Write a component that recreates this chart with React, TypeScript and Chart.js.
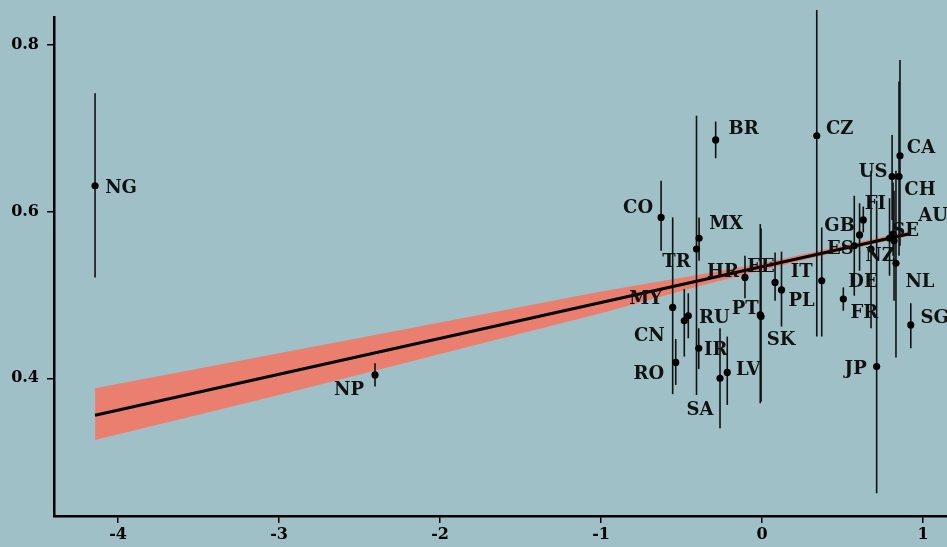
import React, { useEffect, useRef } from 'react';
import { Chart, registerables } from 'chart.js';

Chart.register(...registerables);

// ---- data ----
const countries = ['NG','NP','BR','CZ','CA','US','CH','CO','MX','TR','FI','GB','ES','SE','AU','NL','NZ','DE','FR','SG','JP','IT','PL','EE','HR','PT','SK','MY','RU','CN','IR','RO','SA','LV'];
const xValues = [-4.143,-2.404,-0.288,0.340,0.857,0.808,0.851,-0.627,-0.391,-0.407,0.629,0.606,0.573,0.792,0.814,0.832,0.820,0.677,0.505,0.924,0.712,0.371,0.121,0.081,-0.106,-0.011,-0.006,-0.555,-0.458,-0.483,-0.393,-0.536,-0.261,-0.216];
const yValues = [0.631,0.404,0.686,0.691,0.667,0.642,0.642,0.593,0.568,0.555,0.590,0.572,0.559,0.568,0.573,0.538,0.565,0.555,0.495,0.464,0.414,0.517,0.506,0.515,0.521,0.476,0.474,0.485,0.475,0.469,0.436,0.419,0.400,0.407];
const yLow =    [0.521,0.390,0.664,0.450,0.559,0.590,0.547,0.553,0.541,0.380,0.575,0.529,0.499,0.523,0.547,0.425,0.493,0.460,0.481,0.436,0.262,0.450,0.462,0.493,0.496,0.370,0.372,0.381,0.448,0.426,0.411,0.392,0.340,0.368];
const yHigh =   [0.742,0.418,0.708,0.842,0.782,0.692,0.756,0.637,0.593,0.715,0.606,0.610,0.619,0.616,0.635,0.649,0.625,0.649,0.509,0.490,0.613,0.581,0.552,0.551,0.547,0.585,0.580,0.593,0.502,0.507,0.460,0.447,0.460,0.450];

// label placement (pixel offsets from each point, like a repel layout)
const labelDx = [26,-26,28,23,21,-19,21,-23,27,-20,12,-20,-14,16,40,24,-14,-8,21,24,-21,-20,20,-14,-22,-15,20,-27,26,-35,17,-27,-20,21];
const labelDy = [1,14,-12,-8,-9,-6,12,-11,-16,11,-17,-10,2,-9,-20,17,14,31,12,-8,1,-10,10,-17,-7,-7,22,-10,1,14,0,10,30,-4];

// fitted line and its confidence band
const fitX = [-4.143, 0.924];
const fitY = [0.3555, 0.5738];
const bandX =    [-4.143, -3, -2, -1, -0.4, 0, 0.5, 0.924];
const bandHigh = [0.388, 0.430, 0.467, 0.504, 0.524, 0.538, 0.559, 0.577];
const bandLow =  [0.326, 0.380, 0.429, 0.478, 0.510, 0.530, 0.553, 0.571];

const xTicks = [-4, -3, -2, -1, 0, 1];
const yTicks = [0.4, 0.6, 0.8];

const BG = '#9fc0c6';
const FONT = '"DejaVu Serif", serif';

export default function App() {
  const ref = useRef<HTMLCanvasElement>(null);

  useEffect(() => {
    document.body.style.margin = '0';
    document.body.style.background = BG;
    const canvas = ref.current;
    if (!canvas) return;

    const errorBars = {
      id: 'errorBars',
      beforeDatasetDraw(chart: any, args: any) {
        if (args.index !== 0) return;
        const { ctx, scales } = chart;
        ctx.save();
        ctx.strokeStyle = '#111';
        ctx.lineWidth = 1.6;
        for (let i = 0; i < xValues.length; i++) {
          const px = scales.x.getPixelForValue(xValues[i]);
          ctx.beginPath();
          ctx.moveTo(px, scales.y.getPixelForValue(yHigh[i]));
          ctx.lineTo(px, scales.y.getPixelForValue(yLow[i]));
          ctx.stroke();
        }
        ctx.restore();
      },
    };

    const pointLabels = {
      id: 'pointLabels',
      afterDatasetsDraw(chart: any) {
        const { ctx } = chart;
        const meta = chart.getDatasetMeta(0);
        ctx.save();
        ctx.fillStyle = '#111';
        ctx.font = `bold 18px ${FONT}`;
        ctx.textAlign = 'center';
        ctx.textBaseline = 'alphabetic';
        meta.data.forEach((el: any, i: number) => {
          ctx.fillText(countries[i], el.x + labelDx[i], el.y + labelDy[i] + 6.5);
        });
        ctx.restore();
      },
    };

    const tickFont = { family: FONT, weight: 'bold' as const, size: 16 };

    const chart = new Chart(canvas, {
      type: 'scatter',
      data: {
        datasets: [
          {
            type: 'scatter',
            data: xValues.map((x, i) => ({ x, y: yValues[i] })),
            pointRadius: 3.6,
            backgroundColor: '#000',
            borderWidth: 0,
          } as any,
          {
            type: 'line',
            data: fitX.map((x, i) => ({ x, y: fitY[i] })),
            borderColor: '#000',
            borderWidth: 3,
            pointRadius: 0,
            fill: false,
          } as any,
          {
            type: 'line',
            data: bandX.map((x, i) => ({ x, y: bandHigh[i] })),
            borderColor: 'transparent',
            borderWidth: 0,
            pointRadius: 0,
            backgroundColor: '#ea7f70',
            fill: '+1',
          } as any,
          {
            type: 'line',
            data: bandX.map((x, i) => ({ x, y: bandLow[i] })),
            borderColor: 'transparent',
            borderWidth: 0,
            pointRadius: 0,
            fill: false,
          } as any,
        ],
      },
      options: {
        responsive: false,
        animation: false,
        events: [],
        layout: { autoPadding: false, padding: { top: 17, right: 0, bottom: 0, left: 0 } },
        plugins: { legend: { display: false }, tooltip: { enabled: false } },
        scales: {
          x: {
            type: 'linear',
            min: -4.398,
            max: 1.149,
            afterBuildTicks: (s: any) => { s.ticks = xTicks.map((v) => ({ value: v })); },
            afterFit: (s: any) => { s.height = 31; s.paddingLeft = 0; s.paddingRight = 0; },
            border: { display: true, color: '#000', width: 2.5 },
            grid: { drawOnChartArea: false, drawTicks: true, tickLength: 7, color: '#000', lineWidth: 1.5 },
            ticks: { color: '#000', font: tickFont, padding: 2, callback: (v: any) => String(v) },
          },
          y: {
            type: 'linear',
            min: 0.2347,
            max: 0.8335,
            afterBuildTicks: (s: any) => { s.ticks = yTicks.map((v) => ({ value: v })); },
            afterFit: (s: any) => { s.width = 54; s.paddingTop = 0; s.paddingBottom = 0; },
            border: { display: true, color: '#000', width: 2.5 },
            grid: { drawOnChartArea: false, drawTicks: true, tickLength: 7, color: '#000', lineWidth: 1.5 },
            ticks: { color: '#000', font: tickFont, padding: 8, callback: (v: any) => Number(v).toFixed(1) },
          },
        },
      },
      plugins: [errorBars, pointLabels],
    });

    return () => chart.destroy();
  }, []);

  return (
    <div style={{ position: 'fixed', left: 0, top: 0, width: 947, height: 547, background: BG }}>
      <canvas ref={ref} width={947} height={547} style={{ display: 'block', background: BG }} />
    </div>
  );
}
